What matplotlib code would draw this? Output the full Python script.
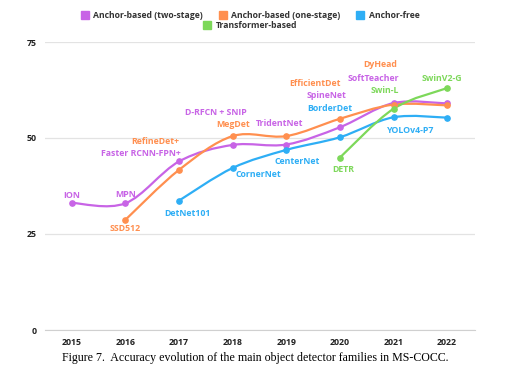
import matplotlib

matplotlib.use("Agg")
import matplotlib.pyplot as plt
from matplotlib.path import Path
from matplotlib.patches import PathPatch

# -----------------------------
# Data
# -----------------------------
years_two = [2015, 2016, 2017, 2018, 2019, 2020, 2021, 2022]
ap_two = [33.1, 33.0, 43.9, 48.2, 48.3, 52.8, 59.1, 59.0]
names_two = ["ION", "MPN", "Faster RCNN-FPN+", "D-RFCN + SNIP", "TridentNet",
             "SpineNet", "SoftTeacher", None]

years_one = [2016, 2017, 2018, 2019, 2020, 2021, 2022]
ap_one = [28.7, 41.7, 50.5, 50.5, 55.0, 58.7, 58.5]
names_one = ["SSD512", "RefineDet+", "MegDet", None, "EfficientDet", "DyHead", None]

years_free = [2017, 2018, 2019, 2020, 2021, 2022]
ap_free = [33.7, 42.2, 46.9, 50.2, 55.4, 55.3]
names_free = ["DetNet101", "CornerNet", "CenterNet", "BorderDet", None, "YOLOv4-P7"]

years_tr = [2020, 2021, 2022]
ap_tr = [44.9, 57.6, 63.0]
names_tr = ["DETR", "Swin-L", "SwinV2-G"]

series_names = ["Anchor-based (two-stage)", "Anchor-based (one-stage)",
                "Anchor-free", "Transformer-based"]
colors = ["#c864e6", "#ff8f4f", "#2eaef5", "#7dd85a"]

# label offsets in pixels (dx, dy) relative to each point
offs_two = [(0, 7), (0, 9), (-38, 8), (-17, 32), (-7, 21), (-13, 32), (-20, 25), None]
offs_one = [(0, -9), (-24, 28), (0, 12), None, (-25, 35), (-13, 40), None]
offs_free = [(8, -13), (26, -7), (11, -12), (-10, 29), None, (-36, -13)]
offs_tr = [(3, -12), (-9, 18), (-5, 10)]

plt.rcParams["font.family"] = ["Open Sans", "DejaVu Sans"]

fig = plt.figure(figsize=(5.11, 3.72), dpi=100)
ax = fig.add_axes([45 / 511, 1 - 330 / 372, 430 / 511, 288 / 372])


def smooth_path(xs, ys, k=1 / 6):
    verts = [(xs[0], ys[0])]
    codes = [Path.MOVETO]
    n = len(xs)
    for i in range(n - 1):
        x0, y0 = (xs[i - 1], ys[i - 1]) if i > 0 else (xs[i], ys[i])
        x1, y1 = xs[i], ys[i]
        x2, y2 = xs[i + 1], ys[i + 1]
        x3, y3 = (xs[i + 2], ys[i + 2]) if i + 2 < n else (x2, y2)
        c1 = (x1 + (x2 - x0) * k, y1 + (y2 - y0) * k)
        c2 = (x2 - (x3 - x1) * k, y2 - (y3 - y1) * k)
        verts += [c1, c2, (x2, y2)]
        codes += [Path.CURVE4] * 3
    return Path(verts, codes)


groups = [
    (years_two, ap_two, names_two, offs_two),
    (years_one, ap_one, names_one, offs_one),
    (years_free, ap_free, names_free, offs_free),
    (years_tr, ap_tr, names_tr, offs_tr),
]

handles = []
for (xs, ys, names, offs), col, name in zip(groups, colors, series_names):
    ax.add_patch(PathPatch(smooth_path(xs, ys), fill=False, edgecolor=col,
                           lw=1.6, capstyle="round", zorder=3))
    ax.plot(xs, ys, "o", color=col, markersize=3.8, zorder=4)
    h, = ax.plot([], [], "s", color=col, markersize=5.5, label=name)
    handles.append(h)
    for x, y, lab, off in zip(xs, ys, names, offs):
        if lab is None:
            continue
        ax.annotate(lab, (x, y), xytext=(off[0] * 0.72, off[1] * 0.72),
                    textcoords="offset points", ha="center", va="center",
                    color=col, fontsize=6.3, fontweight="bold", zorder=5)

# -----------------------------
# Axes styling
# -----------------------------
ax.set_xlim(2014.5, 2022.52)
ax.set_ylim(0, 75)
ax.set_yticks([0, 25, 50, 75])
ax.set_xticks(range(2015, 2023))
ax.grid(axis="y", color="#e3e3e3", lw=0.9)
ax.set_axisbelow(True)
for s in ["top", "right", "left"]:
    ax.spines[s].set_visible(False)
ax.spines["bottom"].set_color("#d0d0d0")
ax.tick_params(length=0, labelsize=6.3, colors="#222222", pad=6)
for t in ax.get_xticklabels() + ax.get_yticklabels():
    t.set_fontweight("bold")

# -----------------------------
# Legend: three entries on top row, one centred below
# -----------------------------
leg_kw = dict(frameon=False, fontsize=6.2, handlelength=0.8,
              handletextpad=0.6, columnspacing=1.9, borderpad=0)
leg1 = fig.legend(handles[:3], series_names[:3], loc="center", ncol=3,
                  bbox_to_anchor=(0.49, 1 - 15.5 / 372), **leg_kw)
leg2 = fig.legend(handles[3:], series_names[3:], loc="center", ncol=1,
                  bbox_to_anchor=(0.49, 1 - 25.5 / 372), **leg_kw)
for leg in (leg1, leg2):
    for t in leg.get_texts():
        t.set_fontweight("bold")
        t.set_color("#333333")

fig.text(0.5, 1 - 358 / 372,
         "Figure 7.  Accuracy evolution of the main object detector families in MS-COCC.",
         ha="center", va="center", fontsize=8.6, family="Liberation Serif")

plt.savefig("out.png", dpi=100)
plt.close()
